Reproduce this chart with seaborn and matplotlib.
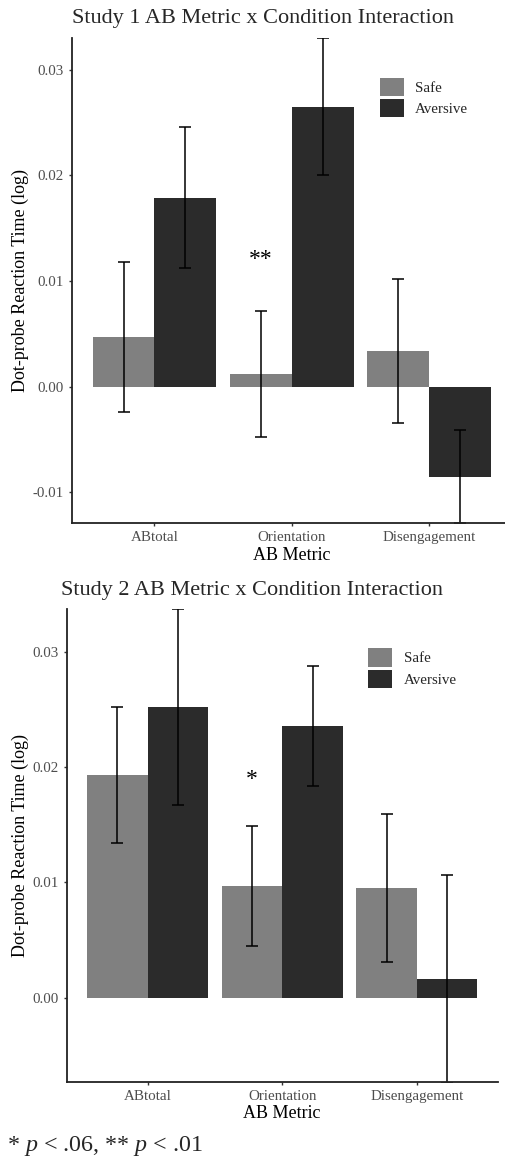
import pandas as pd
import numpy as np
import matplotlib
matplotlib.use('Agg')
import matplotlib.pyplot as plt
import seaborn as sns

# Data
metrics = ['ABtotal', 'Orientation', 'Disengagement']
conditions = ['Safe', 'Aversive']

s1_safe = [0.0047, 0.0012, 0.0034]
s1_aversive = [0.0179, 0.0265, -0.0085]
s1_safe_err = [0.0071, 0.0060, 0.0068]
s1_aversive_err = [0.0067, 0.0065, 0.0044]

s2_safe = [0.0193, 0.0097, 0.0095]
s2_aversive = [0.0252, 0.0236, 0.0016]
s2_safe_err = [0.0059, 0.0052, 0.0064]
s2_aversive_err = [0.0085, 0.0052, 0.0090]

s1_yticks = [-0.01, 0.00, 0.01, 0.02, 0.03]
s2_yticks = [0.00, 0.01, 0.02, 0.03]

s1_star = '**'
s1_star_y = 0.0120
s2_star = '*'
s2_star_y = 0.0189

FIG_W, FIG_H = 506, 1163
SERIF = 'Liberation Serif'
palette = {'Safe': '#808080', 'Aversive': '#2b2b2b'}

sns.set_theme(style='white')
plt.rcParams['font.family'] = [SERIF, 'DejaVu Serif']
plt.rcParams['mathtext.fontset'] = 'custom'
plt.rcParams['mathtext.rm'] = SERIF
plt.rcParams['mathtext.it'] = SERIF + ':italic'


def make_df(safe, aversive, safe_err, aversive_err):
    rows = []
    for i, m in enumerate(metrics):
        rows.append({'metric': m, 'condition': 'Safe', 'value': safe[i], 'err': safe_err[i]})
        rows.append({'metric': m, 'condition': 'Aversive', 'value': aversive[i], 'err': aversive_err[i]})
    return pd.DataFrame(rows)


def px_axes(fig, left, right, top, bottom):
    return fig.add_axes([left / FIG_W, (FIG_H - bottom) / FIG_H,
                         (right - left) / FIG_W, (bottom - top) / FIG_H])


def draw_panel(ax, df, ylim, yticks, xlim, star, star_y, leg_xy):
    sns.barplot(data=df, x='metric', y='value', hue='condition', order=metrics,
                hue_order=conditions, palette=palette, errorbar=None,
                width=0.9, gap=0, saturation=1, linewidth=0, ax=ax, legend=True)
    # error bars at the bar centres
    for cont, cond in zip(ax.containers, conditions):
        sub = df[df['condition'] == cond].set_index('metric').loc[metrics]
        xs = [b.get_x() + b.get_width() / 2 for b in cont]
        ax.errorbar(xs, sub['value'], yerr=sub['err'], fmt='none', ecolor='black',
                    elinewidth=1.1, capsize=4.3, capthick=1.1, clip_on=True)
    # significance marker above the Orientation / Safe bar
    b = ax.containers[0][1]
    ax.text(b.get_x() + b.get_width() / 2, star_y, star, ha='center', va='center',
            fontsize=17, color='black')

    ax.set_ylim(*ylim)
    ax.set_xlim(*xlim)
    ax.set_yticks(yticks)
    ax.set_yticklabels([f'{t:.2f}' for t in yticks])
    ax.tick_params(axis='both', length=2.5, width=1, color='#333333',
                   labelsize=10.8, labelcolor='#4d4d4d', pad=3.5, left=True, bottom=True)
    for side in ['top', 'right']:
        ax.spines[side].set_visible(False)
    for side in ['left', 'bottom']:
        ax.spines[side].set_color('#222222')
        ax.spines[side].set_linewidth(1.3)

    ax.set_xlabel('AB Metric', fontsize=13, color='black')
    ax.set_ylabel('Dot-probe Reaction Time (log)', fontsize=13, color='black')

    handles, labels = ax.get_legend_handles_labels()
    ax.legend(handles, labels, loc='upper left', bbox_to_anchor=leg_xy, frameon=False,
              fontsize=10.8, handlelength=1.6, handleheight=1.5, labelspacing=0.2,
              handletextpad=0.75, borderpad=0, borderaxespad=0)


fig = plt.figure(figsize=(FIG_W / 100, FIG_H / 100), dpi=100)

# Study 1
ax1 = px_axes(fig, 72, 506, 38, 523)
df1 = make_df(s1_safe, s1_aversive, s1_safe_err, s1_aversive_err)
draw_panel(ax1, df1, (-0.0129, 0.0330), s1_yticks, (-0.6, 2.56), s1_star, s1_star_y,
           ((380 - 72) / 434, (523 - 77.7) / 485))
ax1.xaxis.set_label_coords((292 - 72) / 434, (523 - 556) / 485)
ax1.xaxis.label.set_va('center')
ax1.yaxis.set_label_coords((20 - 72) / 434, 0.5)
ax1.yaxis.label.set_va('center')
fig.text(263 / FIG_W, 1 - 18 / FIG_H, 'Study 1 AB Metric x Condition Interaction',
         ha='center', va='center', fontsize=16)

# Study 2
ax2 = px_axes(fig, 66.7, 497.7, 609.3, 1081.7)
df2 = make_df(s2_safe, s2_aversive, s2_safe_err, s2_aversive_err)
draw_panel(ax2, df2, (-0.0073, 0.0337), s2_yticks, (-0.6, 2.6), s2_star, s2_star_y,
           ((368.3 - 66.7) / 431, (1081.7 - 648.3) / 472.4))
ax2.xaxis.set_label_coords(0.5, (1081.7 - 1113) / 472.4)
ax2.xaxis.label.set_va('center')
ax2.yaxis.set_label_coords((20 - 66.7) / 431, 0.5)
ax2.yaxis.label.set_va('center')
fig.text(252 / FIG_W, 1 - 591 / FIG_H, 'Study 2 AB Metric x Condition Interaction',
         ha='center', va='center', fontsize=16)

# footnote
fig.text(7 / FIG_W, 1 - 1146 / FIG_H, r'* $p$ < .06, ** $p$ < .01',
         ha='left', va='center', fontsize=17.3)

fig.savefig('out.png', dpi=100)
